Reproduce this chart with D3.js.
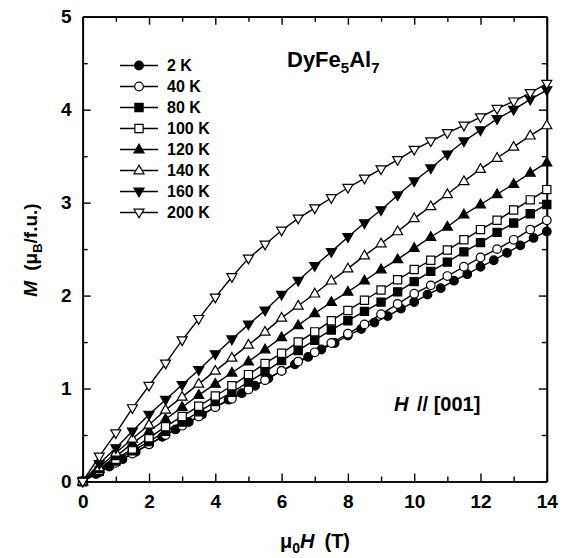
<!DOCTYPE html>
<html>
<head>
<meta charset="utf-8">
<script src="https://cdn.jsdelivr.net/npm/d3@7"></script>
<style>
  body { margin: 0; background: #fff; }
  svg text { font-family: "Liberation Sans", Arial, Helvetica, sans-serif; font-weight: bold; fill: #000; }
</style>
</head>
<body>
<svg id="chart" width="568" height="558"></svg>
<script>
// Magnetic field grids, mu0H in tesla (the 2 K run used a finer 0.4 T step)
const fieldT = [0, 0.5, 1, 1.5, 2, 2.5, 3, 3.5, 4, 4.5, 5, 5.5, 6, 6.5, 7,
                7.5, 8, 8.5, 9, 9.5, 10, 10.5, 11, 11.5, 12, 12.5, 13, 13.5, 14];
const fieldT2K = [0, 0.4, 0.8, 1.2, 1.6, 2.0, 2.4, 2.8, 3.2, 3.6, 4.0, 4.4, 4.8, 5.2, 5.6, 6.0, 6.4, 6.8,
                  7.2, 7.6, 8.0, 8.4, 8.8, 9.2, 9.6, 10.0, 10.4, 10.8, 11.2, 11.6, 12.0, 12.4, 12.8, 13.2, 13.6, 14.0];

// Magnetization M (muB per formula unit) for each temperature
const m2K   = [0, 0.08, 0.16, 0.24, 0.32, 0.40, 0.48, 0.56, 0.64, 0.72, 0.80, 0.88, 0.95, 1.03, 1.11, 1.19, 1.26, 1.34,
               1.42, 1.49, 1.57, 1.64, 1.71, 1.78, 1.86, 1.93, 2.01, 2.08, 2.16, 2.23, 2.31, 2.38, 2.46, 2.54, 2.62, 2.69];
const m40K  = [0, 0.10, 0.20, 0.30, 0.40, 0.50, 0.60, 0.70, 0.80, 0.89, 0.99, 1.09, 1.19, 1.29, 1.39,
               1.49, 1.59, 1.69, 1.80, 1.91, 2.02, 2.11, 2.21, 2.31, 2.41, 2.50, 2.60, 2.71, 2.81];
const m80K  = [0, 0.11, 0.22, 0.33, 0.43, 0.54, 0.64, 0.75, 0.86, 0.96, 1.07, 1.18, 1.30, 1.41, 1.52,
               1.63, 1.73, 1.83, 1.93, 2.04, 2.15, 2.26, 2.36, 2.47, 2.57, 2.68, 2.78, 2.88, 2.98];
const m100K = [0, 0.12, 0.24, 0.35, 0.47, 0.59, 0.70, 0.81, 0.92, 1.03, 1.15, 1.27, 1.38, 1.50, 1.61,
               1.73, 1.84, 1.95, 2.06, 2.17, 2.28, 2.38, 2.49, 2.60, 2.71, 2.81, 2.92, 3.03, 3.14];
const m120K = [0, 0.13, 0.27, 0.41, 0.54, 0.67, 0.80, 0.93, 1.05, 1.17, 1.29, 1.42, 1.55, 1.68, 1.81,
               1.93, 2.04, 2.16, 2.28, 2.39, 2.51, 2.63, 2.74, 2.87, 2.98, 3.09, 3.20, 3.32, 3.43];
const m140K = [0, 0.15, 0.31, 0.46, 0.61, 0.77, 0.91, 1.05, 1.19, 1.33, 1.47, 1.61, 1.76, 1.89, 2.02,
               2.16, 2.29, 2.43, 2.56, 2.69, 2.83, 2.96, 3.09, 3.23, 3.36, 3.48, 3.60, 3.72, 3.83];
const m160K = [0, 0.19, 0.36, 0.54, 0.72, 0.88, 1.04, 1.20, 1.37, 1.53, 1.69, 1.84, 2.01, 2.16, 2.32,
               2.47, 2.63, 2.78, 2.92, 3.08, 3.23, 3.37, 3.52, 3.66, 3.78, 3.90, 4.00, 4.11, 4.21];
const m200K = [0, 0.27, 0.52, 0.79, 1.03, 1.27, 1.52, 1.75, 1.98, 2.20, 2.40, 2.55, 2.70, 2.83, 2.94,
               3.05, 3.16, 3.26, 3.36, 3.46, 3.57, 3.66, 3.75, 3.83, 3.92, 4.01, 4.09, 4.18, 4.28];

const tempLabels = ["2 K", "40 K", "80 K", "100 K", "120 K", "140 K", "160 K", "200 K"];
const markerShapes = ["circle", "circle", "square", "square", "triUp", "triUp", "triDown", "triDown"];
const markerFilled = [true, false, true, false, true, false, true, false];
const seriesFields = [fieldT2K, fieldT, fieldT, fieldT, fieldT, fieldT, fieldT, fieldT];
const seriesValues = [m2K, m40K, m80K, m100K, m120K, m140K, m160K, m200K];

const xTicksMajor = [0, 2, 4, 6, 8, 10, 12, 14];
const xTicksMinor = [1, 3, 5, 7, 9, 11, 13];
const yTicksMajor = [0, 1, 2, 3, 4, 5];
const yTicksMinor = [0.5, 1.5, 2.5, 3.5, 4.5];

const svg = d3.select("#chart");
const plotLeft = 82.7, plotRight = 546.8, plotTop = 16.7, plotBottom = 481.5;

const x = d3.scaleLinear().domain([0, 14]).range([plotLeft, plotRight]);
const y = d3.scaleLinear().domain([0, 5]).range([plotBottom, plotTop]);

// Marker path builders, centered on (0,0)
function markerPath(shape) {
  if (shape === "circle") return d3.symbol().type(d3.symbolCircle).size(Math.PI * 4.3 * 4.3)();
  if (shape === "square") return "M-4.1,-4.1H4.1V4.1H-4.1Z";
  if (shape === "triUp") return "M0,-5.4L5,3.3L-5,3.3Z";
  return "M0,5.4L5,-3.3L-5,-3.3Z";
}

// Axes with inward ticks on all four sides
function styleAxis(g) {
  g.selectAll("path.domain").attr("stroke", "#000").attr("stroke-width", 1.7);
  g.selectAll(".tick line").attr("stroke", "#000").attr("stroke-width", 1.4);
  g.selectAll(".tick text").attr("font-size", 19)
    .style("font-family", '"Liberation Sans", Arial, sans-serif').style("font-weight", "bold");
}

svg.append("g").attr("transform", `translate(0,${plotBottom})`)
  .call(d3.axisBottom(x).tickValues(xTicksMajor).tickSizeInner(-8).tickSizeOuter(0).tickPadding(13).tickFormat(d3.format("d")))
  .call(styleAxis);
svg.append("g").attr("transform", `translate(0,${plotBottom})`)
  .call(d3.axisBottom(x).tickValues(xTicksMinor).tickSizeInner(-5).tickSizeOuter(0).tickFormat(""))
  .call(styleAxis);
svg.append("g").attr("transform", `translate(0,${plotTop})`)
  .call(d3.axisTop(x).tickValues(xTicksMajor).tickSizeInner(-8).tickSizeOuter(0).tickFormat(""))
  .call(styleAxis);
svg.append("g").attr("transform", `translate(0,${plotTop})`)
  .call(d3.axisTop(x).tickValues(xTicksMinor).tickSizeInner(-5).tickSizeOuter(0).tickFormat(""))
  .call(styleAxis);

svg.append("g").attr("transform", `translate(${plotLeft},0)`)
  .call(d3.axisLeft(y).tickValues(yTicksMajor).tickSizeInner(-8).tickSizeOuter(0).tickPadding(11).tickFormat(d3.format("d")))
  .call(styleAxis);
svg.append("g").attr("transform", `translate(${plotLeft},0)`)
  .call(d3.axisLeft(y).tickValues(yTicksMinor).tickSizeInner(-5).tickSizeOuter(0).tickFormat(""))
  .call(styleAxis);
svg.append("g").attr("transform", `translate(${plotRight},0)`)
  .call(d3.axisRight(y).tickValues(yTicksMajor).tickSizeInner(-8).tickSizeOuter(0).tickFormat(""))
  .call(styleAxis);
svg.append("g").attr("transform", `translate(${plotRight},0)`)
  .call(d3.axisRight(y).tickValues(yTicksMinor).tickSizeInner(-5).tickSizeOuter(0).tickFormat(""))
  .call(styleAxis);

// Curves
const line = d3.line().x(d => x(d[0])).y(d => y(d[1]));
const plot = svg.append("g");
seriesValues.forEach((vals, i) => {
  const pts = seriesFields[i].map((h, j) => [h, vals[j]]);
  const g = plot.append("g").attr("class", "series");
  g.append("path").datum(pts).attr("d", line)
    .attr("fill", "none").attr("stroke", "#000").attr("stroke-width", 1.4);
  g.selectAll("path.mk").data(pts).join("path").attr("class", "mk")
    .attr("d", markerPath(markerShapes[i]))
    .attr("transform", d => `translate(${x(d[0])},${y(d[1])})`)
    .attr("fill", markerFilled[i] ? "#000" : "#fff")
    .attr("stroke", "#000").attr("stroke-width", 1.2);
});

// Legend
const legend = svg.append("g");
tempLabels.forEach((lab, i) => {
  const cy = 65.5 + i * 21;
  legend.append("line").attr("x1", 120).attr("x2", 158).attr("y1", cy).attr("y2", cy)
    .attr("stroke", "#000").attr("stroke-width", 1.4);
  legend.append("path").attr("d", markerPath(markerShapes[i]))
    .attr("transform", `translate(139,${cy})`)
    .attr("fill", markerFilled[i] ? "#000" : "#fff")
    .attr("stroke", "#000").attr("stroke-width", 1.2);
  legend.append("text").attr("x", 167).attr("y", cy).attr("dy", "0.36em")
    .attr("font-size", 16).text(lab);
});

// Compound name
const title = svg.append("text").attr("x", 287).attr("y", 67).attr("font-size", 22);
title.append("tspan").text("DyFe");
title.append("tspan").attr("dy", 6).attr("font-size", 15).text("5");
title.append("tspan").attr("dy", -6).text("Al");
title.append("tspan").attr("dy", 6).attr("font-size", 15).text("7");

// Field direction
const dir = svg.append("text").attr("x", 394).attr("y", 411).attr("font-size", 20);
dir.append("tspan").attr("font-style", "italic").text("H");
dir.append("tspan").attr("dx", 3).text(" // [001]");

// Axis titles
const xt = svg.append("text").attr("x", 315).attr("y", 548).attr("text-anchor", "middle").attr("font-size", 20);
xt.append("tspan").text("\u03bc");
xt.append("tspan").attr("dy", 5).attr("font-size", 14).text("0");
xt.append("tspan").attr("dy", -5).attr("font-style", "italic").text("H");
xt.append("tspan").attr("dx", 10).text("(T)");

const yt = svg.append("text").attr("transform", "translate(37,250) rotate(-90)")
  .attr("text-anchor", "middle").attr("font-size", 19);
yt.append("tspan").attr("font-style", "italic").text("M");
yt.append("tspan").attr("dx", 10).text("(\u03bc");
yt.append("tspan").attr("dy", 5).attr("font-size", 13).text("B");
yt.append("tspan").attr("dy", -5).text("/f.u.)");
</script>
</body>
</html>
